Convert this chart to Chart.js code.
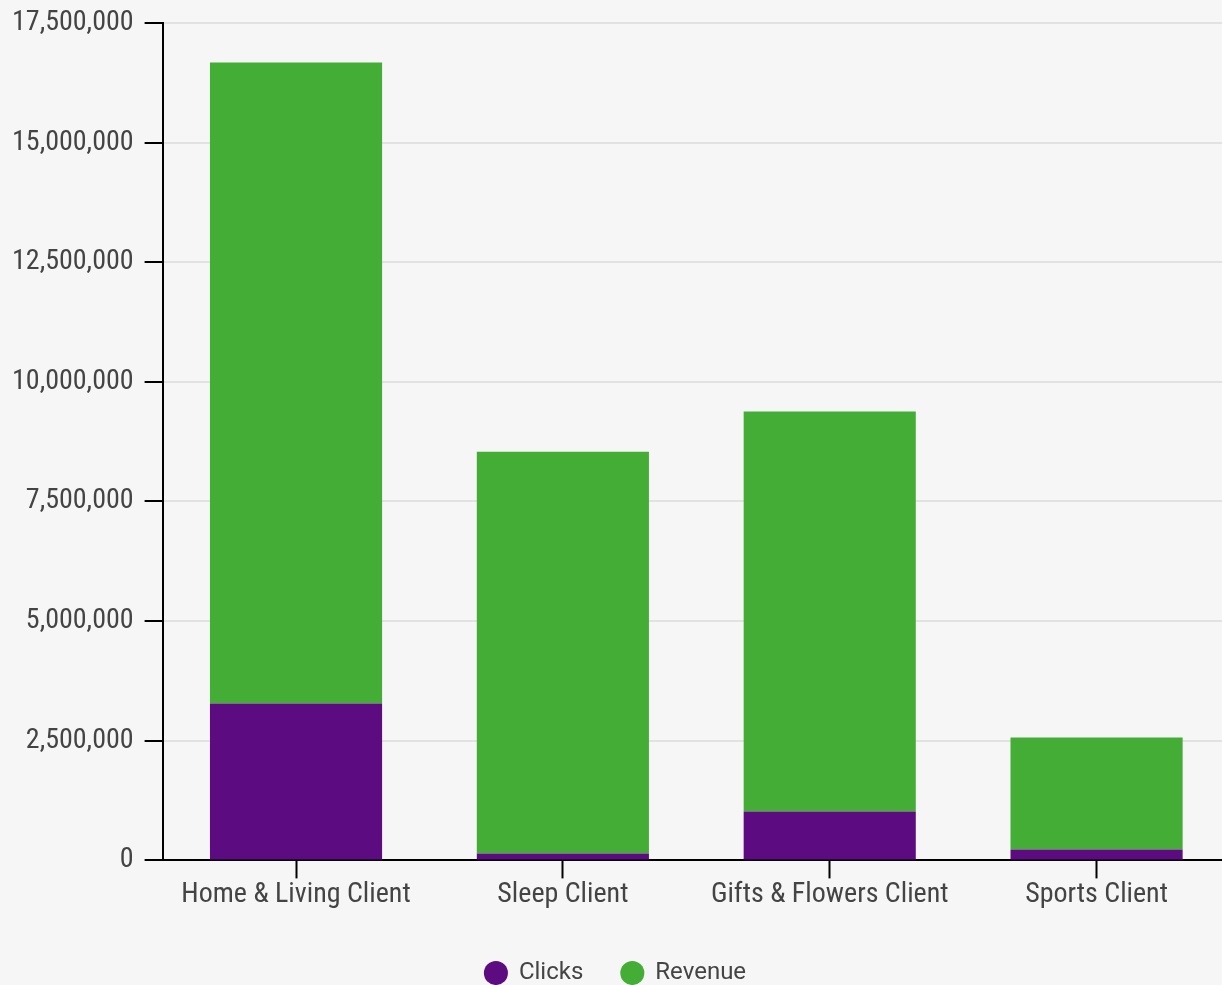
<!DOCTYPE html>
<html>
<head>
<meta charset="utf-8">
<script src="https://cdn.jsdelivr.net/npm/chart.js@4"></script>
<style>
  html, body { margin: 0; padding: 0; background: #f6f6f6; overflow: hidden; }
  #wrap { width: 1230px; height: 985px; }
</style>
</head>
<body>
<div id="wrap"><canvas id="chart"></canvas></div>
<script>
// Clients and their stacked totals
const categories = ['Home & Living Client', 'Sleep Client', 'Gifts & Flowers Client', 'Sports Client'];
const clicks = [3280000, 146000, 1023000, 230000];
const revenue = [13390000, 8395000, 8355000, 2340000];
const yTicks = [0, 2500000, 5000000, 7500000, 10000000, 12500000, 15000000, 17500000];

const purple = '#5d0b80';
const green = '#43ad36';

new Chart(document.getElementById('chart'), {
  type: 'bar',
  data: {
    labels: categories,
    datasets: [
      { label: 'Clicks', data: clicks, backgroundColor: purple, borderWidth: 0 },
      { label: 'Revenue', data: revenue, backgroundColor: green, borderWidth: 0 }
    ]
  },
  options: {
    responsive: true,
    maintainAspectRatio: false,
    animation: false,
    layout: { padding: { top: 0, left: 1, right: 0, bottom: -10 } },
    datasets: { bar: { barPercentage: 0.645, categoryPercentage: 1.0 } },
    plugins: {
      tooltip: { enabled: false },
      legend: {
        position: 'bottom',
        labels: {
          usePointStyle: true,
          pointStyle: 'circle',
          boxHeight: 17,
          boxWidth: 22,
          padding: 38,
          color: '#444',
          font: { family: 'Roboto', size: 24 }
        }
      }
    },
    scales: {
      x: {
        stacked: true,
        grid: {
          offset: false,
          drawOnChartArea: false,
          drawTicks: true,
          tickLength: 18,
          tickColor: '#000',
          tickWidth: 2
        },
        border: { color: '#000', width: 2 },
        ticks: {
          padding: 0,
          color: '#444',
          font: { family: 'Roboto Condensed', size: 28 }
        },
        afterFit(scale) { scale.height += 11; }
      },
      y: {
        stacked: true,
        min: 0,
        max: 17500000,
        afterBuildTicks(scale) { scale.ticks = yTicks.map(v => ({ value: v })); },
        grid: {
          color: '#e2e2e2',
          lineWidth: 2,
          tickLength: 18,
          tickColor: '#000',
          tickWidth: 2
        },
        border: { color: '#000', width: 2 },
        ticks: {
          padding: 11,
          color: '#444',
          font: { family: 'Roboto Condensed', size: 28, lineHeight: 0.85 },
          callback: v => Number(v).toLocaleString('en-US')
        }
      }
    }
  }
});
</script>
</body>
</html>
